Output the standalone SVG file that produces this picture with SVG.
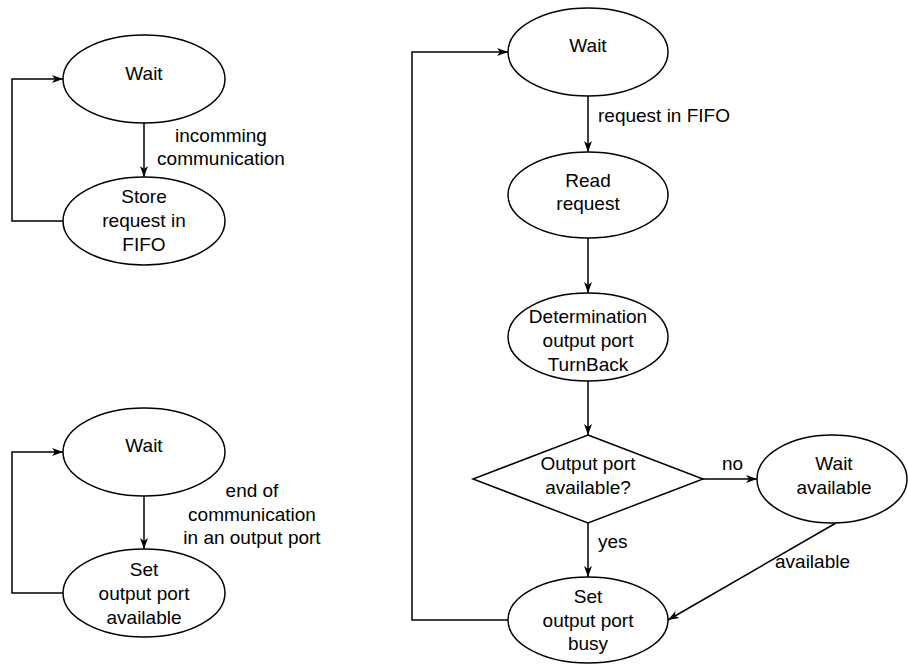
<svg xmlns="http://www.w3.org/2000/svg" width="908" height="664" viewBox="0 0 908 664">
<defs>
<marker id="arr" markerUnits="userSpaceOnUse" markerWidth="12" markerHeight="10" viewBox="0 0 12 10" refX="11" refY="5" orient="auto">
<path d="M0,1 L11,5 L0,9 L3,5 Z" fill="#000"/>
</marker>
<style>
.n{fill:#fff;stroke:#000;stroke-width:1.5}
.c{fill:none;stroke:#000;stroke-width:1.5}
.a{marker-end:url(#arr)}
text{font-family:"Liberation Sans",Arial,sans-serif;font-size:19px;fill:#000}
.m{text-anchor:middle}
</style>
</defs>
<rect width="908" height="664" fill="#fff"/>
<g id="connectors">
<path class="c a" d="M144,123 L144,177"/>
<path class="c a" d="M63,221 L12,221 L12,79 L63,79"/>
<path class="c a" d="M144,496 L144,549"/>
<path class="c a" d="M63,593 L12,593 L12,452 L63,452"/>
<path class="c a" d="M588,96 L588,152"/>
<path class="c a" d="M588,238 L588,293"/>
<path class="c a" d="M588,380 L588,435"/>
<path class="c a" d="M588,523 L588,577"/>
<path class="c a" d="M703,479 L757,479"/>
<path class="c a" d="M836,523 L668,620"/>
<path class="c a" d="M508,620 L412,620 L412,52 L508,52"/>
</g>
<g id="labels">
<text class="m" x="221" y="142">incomming</text>
<text class="m" x="221" y="165">communication</text>
<text class="m" x="252" y="497">end of</text>
<text class="m" x="252" y="521">communication</text>
<text class="m" x="252" y="544">in an output port</text>
<text x="598" y="122">request in FIFO</text>
<text x="722" y="470">no</text>
<text x="598" y="548">yes</text>
<text x="775" y="568">available</text>
</g>
<g id="wait1">
<ellipse class="n" cx="144" cy="79" rx="81" ry="44"/>
<text class="m" x="144" y="80">Wait</text>
</g>
<g id="store">
<ellipse class="n" cx="144" cy="221" rx="81" ry="44"/>
<text class="m" x="144" y="203">Store</text>
<text class="m" x="144" y="227">request in</text>
<text class="m" x="144" y="251">FIFO</text>
</g>
<g id="wait2">
<ellipse class="n" cx="144" cy="452" rx="81" ry="44"/>
<text class="m" x="144" y="452">Wait</text>
</g>
<g id="setavail">
<ellipse class="n" cx="144" cy="593" rx="81" ry="44"/>
<text class="m" x="144" y="576">Set</text>
<text class="m" x="144" y="600">output port</text>
<text class="m" x="144" y="624">available</text>
</g>
<g id="wait3">
<ellipse class="n" cx="588" cy="52" rx="80" ry="44"/>
<text class="m" x="588" y="52">Wait</text>
</g>
<g id="read">
<ellipse class="n" cx="588" cy="195" rx="80" ry="43"/>
<text class="m" x="588" y="187">Read</text>
<text class="m" x="588" y="210">request</text>
</g>
<g id="determination">
<ellipse class="n" cx="588" cy="337" rx="80" ry="44"/>
<text class="m" x="588" y="323">Determination</text>
<text class="m" x="588" y="347">output port</text>
<text class="m" x="588" y="371">TurnBack</text>
</g>
<g id="decision">
<polygon class="n" points="588,435 703,479 588,523 473,479"/>
<text class="m" x="588" y="470">Output port</text>
<text class="m" x="588" y="494">available?</text>
</g>
<g id="waitavail">
<ellipse class="n" cx="832" cy="479" rx="75" ry="44"/>
<text class="m" x="834" y="470">Wait</text>
<text class="m" x="834" y="494">available</text>
</g>
<g id="setbusy">
<ellipse class="n" cx="588" cy="620" rx="80" ry="43"/>
<text class="m" x="588" y="603">Set</text>
<text class="m" x="588" y="627">output port</text>
<text class="m" x="588" y="650">busy</text>
</g>
</svg>
